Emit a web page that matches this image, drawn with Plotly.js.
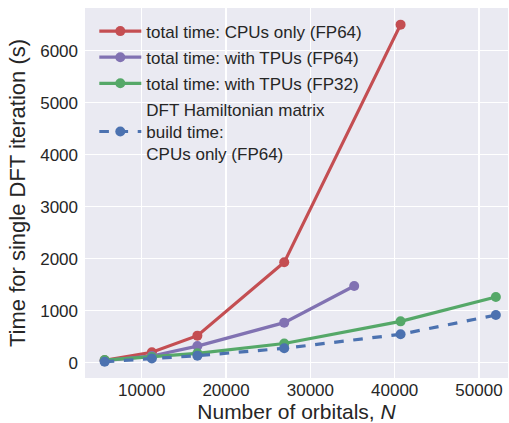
<!DOCTYPE html>
<html>
<head>
<meta charset="utf-8">
<script src="https://cdn.plot.ly/plotly-3.0.1.min.js"></script>
<style>html,body{margin:0;padding:0;background:#fff;}#chart{width:509px;height:423px;}</style>
</head>
<body>
<div id="chart"></div>
<script>
// Data
const cpuN = [5600, 11200, 16600, 26900, 40700];
const cpuTime = [45, 200, 520, 1930, 6500];

const tpu64N = [5600, 11200, 16600, 26900, 35200];
const tpu64Time = [40, 130, 320, 770, 1475];

const tpu32N = [5600, 11200, 16600, 26900, 40700, 52000];
const tpu32Time = [50, 110, 180, 370, 795, 1262];

const buildN = [5600, 11200, 16600, 26900, 40700, 52000];
const buildTime = [20, 80, 135, 277, 546, 917];

const seriesNames = [
  "total time: CPUs only (FP64)",
  "total time: with TPUs (FP64)",
  "total time: with TPUs (FP32)",
  "DFT Hamiltonian matrix<br>build time:<br>CPUs only (FP64)"
];
const yTicks = [0, 1000, 2000, 3000, 4000, 5000, 6000];
const xTicks = [10000, 20000, 30000, 40000, 50000];

const colors = ["#C44E52", "#8172B2", "#55A868", "#4C72B0"];
const font = "Liberation Sans, Arial, sans-serif";

function tr(x, y, i, dash) {
  return {
    x: x, y: y, name: seriesNames[i], mode: "lines+markers", type: "scatter",
    legendgroup: "g" + i,
    line: {color: colors[i], width: 3.2, dash: dash || "solid"},
    marker: {color: colors[i], size: 10}
  };
}

const data = [
  tr(cpuN, cpuTime, 0),
  tr(tpu64N, tpu64Time, 1),
  tr(tpu32N, tpu32Time, 2),
  tr(buildN, buildTime, 3, "dash")
];

const layout = {
  width: 509, height: 423,
  margin: {l: 85, r: 1, t: 8, b: 45},
  paper_bgcolor: "#ffffff",
  plot_bgcolor: "#EAEAF2",
  font: {family: font, color: "#262626", size: 17},
  showlegend: true,
  legend: {
    x: 0.022, y: 0.985, xanchor: "left", yanchor: "top",
    bgcolor: "rgba(0,0,0,0)", borderwidth: 0,
    font: {family: font, size: 17, color: "#262626"},
    traceorder: "grouped", tracegroupgap: 1,
    itemwidth: 42
  },
  xaxis: {
    range: [3270, 53440],
    tickvals: xTicks, ticktext: xTicks.map(String),
    showgrid: true, gridcolor: "#ffffff", gridwidth: 1.3,
    zeroline: false, showline: false, ticks: "",
    tickfont: {size: 17},
    title: {text: "Number of orbitals, <i>N</i>", font: {size: 21}, standoff: 10}
  },
  yaxis: {
    range: [-294, 6820],
    tickvals: yTicks, ticktext: yTicks.map(String),
    showgrid: true, gridcolor: "#ffffff", gridwidth: 1.3,
    zeroline: false, showline: false, ticks: "",
    tickfont: {size: 17},
    ticklabelstandoff: 6,
    title: {text: "Time for single DFT iteration (s)", font: {size: 22}, standoff: 8}
  }
};

Plotly.newPlot("chart", data, layout, {displayModeBar: false, staticPlot: true});
</script>
</body>
</html>
